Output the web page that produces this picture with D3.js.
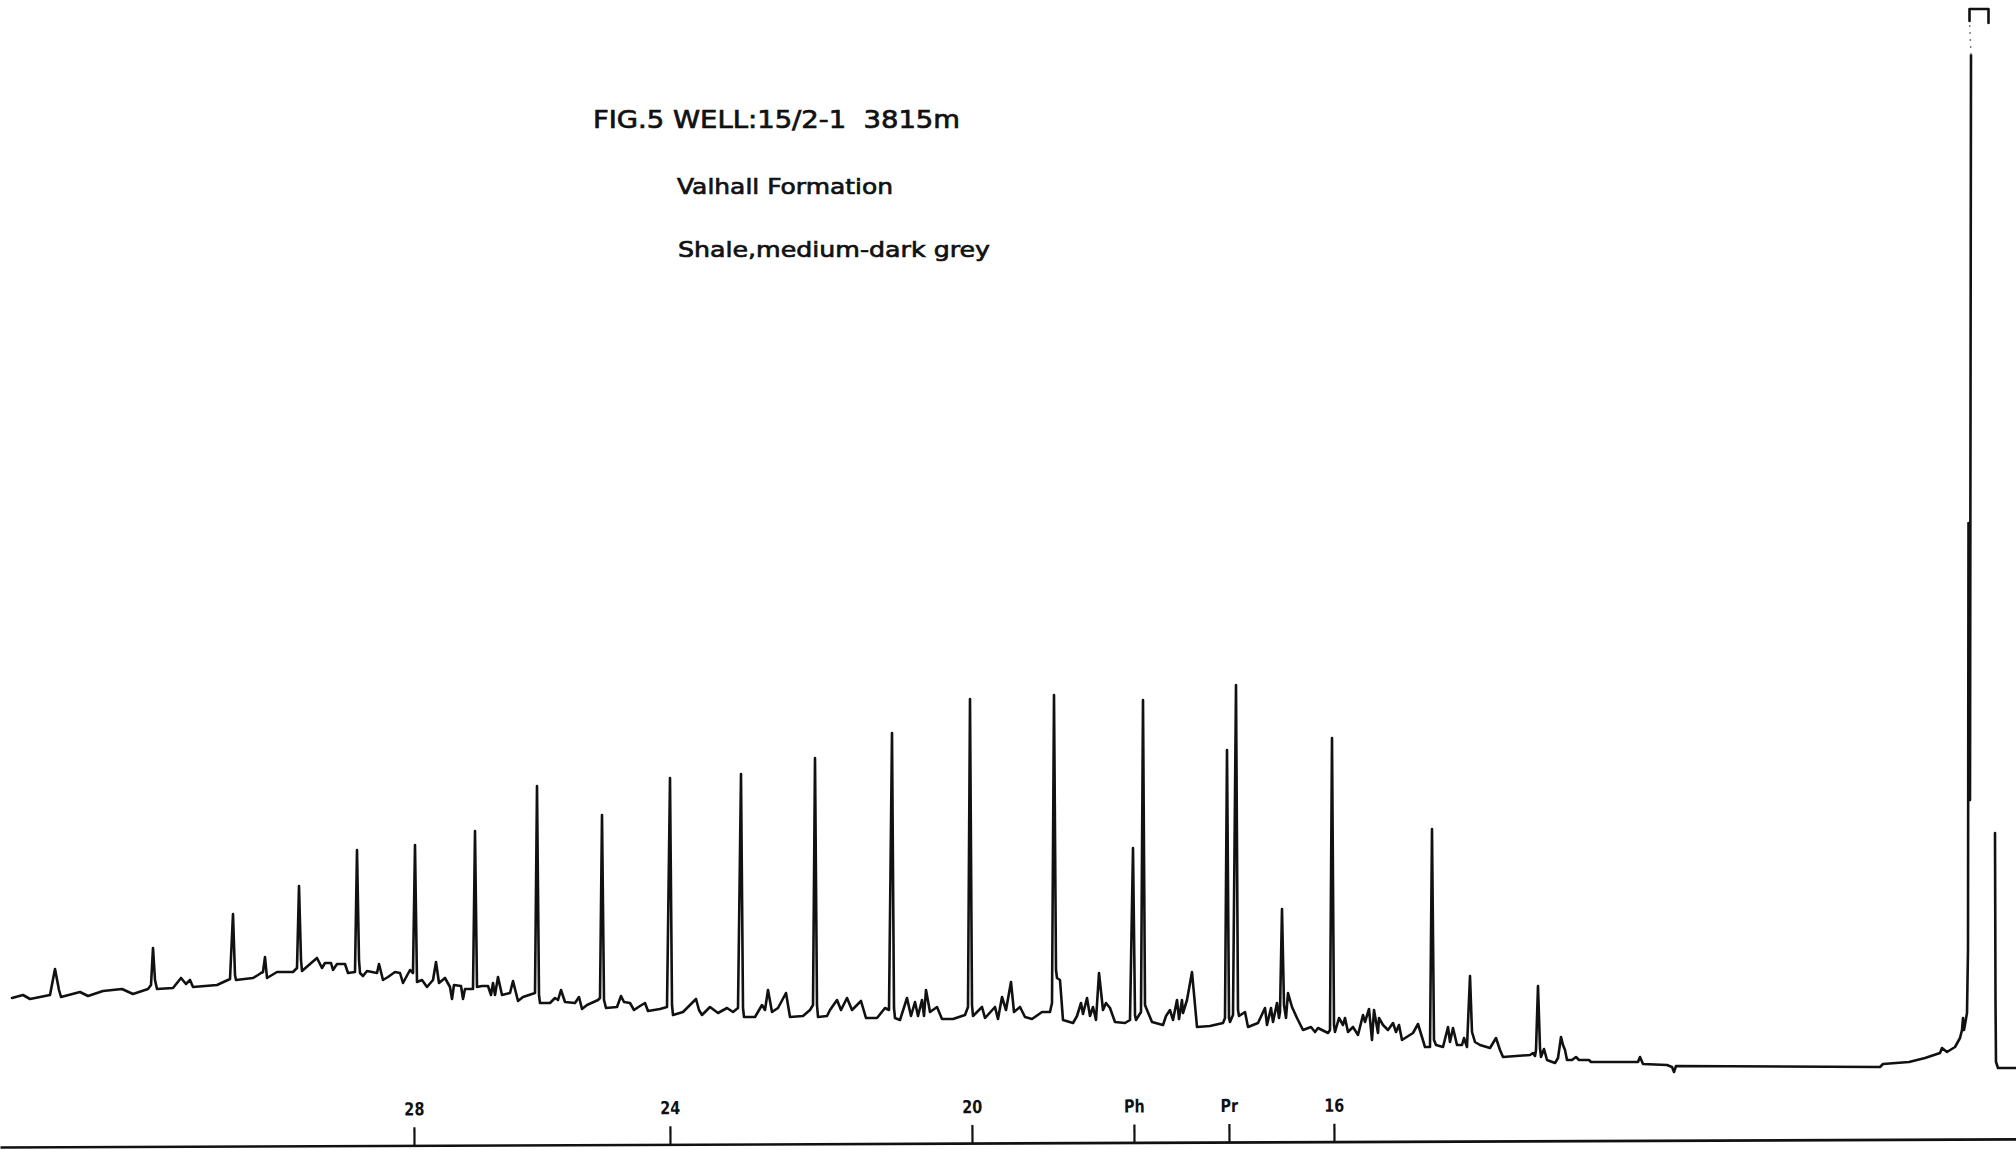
<!DOCTYPE html>
<html>
<head>
<meta charset="utf-8">
<script src="https://cdn.jsdelivr.net/npm/d3@7"></script>
<style>
  html, body { margin: 0; padding: 0; background: #ffffff; }
  svg { display: block; }
</style>
</head>
<body>
<script>
// Saturated-hydrocarbon gas chromatogram, well 15/2-1, 3815 m.
// Retention time (min) grows from right to left, as on the recorder paper;
// signal is in recorder units (full scale = 115).

// Chart annotation
const titleLines = ["FIG.5 WELL:15/2-1  3815m", "Valhall Formation", "Shale,medium-dark grey"];

// Peak markers under the trace (n-alkane carbon numbers, phytane, pristane)
const tickLabels = ["28", "24", "20", "Ph", "Pr", "16"];
const tickTimes  = [80.1, 67.3, 52.2, 44.1, 39.35, 34.1];

// Trace, [retention min, signal]: heavy end (n-C33 .. n-C26)
const heavyEnd = [
  [100.2,15.2],[99.65,15.5],[99.3,15.1],[98.3,15.5],[98.05,18.1],[97.85,16.0],[97.75,15.3],
  [96.8,15.8],[96.4,15.4],[95.65,15.9],[94.7,16.1],[94.15,15.6],[93.4,16.1],[93.25,16.5],
  [93.15,20.2],[93.05,17.0],[92.95,16.1],[92.15,16.2],[91.75,17.2],[91.5,16.6],[91.3,17.0],
  [91.15,16.3],[89.95,16.5],[89.3,17.1],[89.15,23.6],[89.05,17.5],[89.0,17.0],[88.15,17.2],
  [87.9,17.5],[87.75,17.7],[87.65,17.8],[87.55,19.3],[87.45,17.2],[86.95,17.8],[86.15,17.8],
  [85.95,18.2],[85.85,26.4],[85.75,19.0],[85.7,17.9],[85.3,18.6],[84.95,19.2],[84.7,18.2],
  [84.55,18.7],[84.25,18.7],[84.15,18.0],[83.95,18.6],[83.55,18.6],[83.4,17.7],[83.05,17.8],
  [82.95,30.0],[82.85,19.0],[82.8,17.7],[82.65,17.4],[82.45,17.9],[81.95,17.7],[81.85,18.6],
  [81.65,17.0],[81.4,17.3],[81.05,17.8],[80.8,17.7],[80.65,16.7],[80.3,18.0],[80.15,17.7],
  [80.05,30.5],[79.95,16.8],[79.7,17.0],[79.45,16.3],[79.15,17.0],[79.0,18.8],[78.85,16.7],
  [78.55,17.2],[78.3,16.3],[78.2,15.1],[78.1,16.5],[77.75,16.4],[77.65,15.1],[77.55,16.1],
  [77.15,16.1],[77.05,31.9],[76.95,16.3],[76.7,16.4],[76.4,16.4],[76.25,15.5],[76.15,16.7],
  [76.05,15.5],[75.9,17.3],[75.7,15.5],[75.3,15.7],[75.15,16.9],[74.9,14.9],[74.65,15.3],
  [74.05,15.7],[73.95,36.4],[73.85,15.5],[73.8,14.7]
];

// Trace: middle range (n-C25 .. n-C19)
const midRange = [
  [73.3,14.7],[73.05,15.2],[72.9,15.0],[72.75,16.0],[72.55,14.8],[72.05,14.7],[71.85,15.3],
  [71.7,14.1],[71.45,14.5],[70.9,15.0],[70.8,15.2],[70.7,33.5],[70.6,15.0],[70.5,14.2],
  [69.95,14.3],[69.75,15.4],[69.6,14.8],[69.3,14.7],[69.1,14.0],[68.8,14.4],[68.55,14.7],
  [68.4,13.9],[67.8,14.1],[67.45,14.3],[67.3,37.2],[67.2,14.5],[67.15,13.5],[66.65,13.8],
  [66.2,14.7],[66.0,15.1],[65.85,14.0],[65.7,13.5],[65.3,14.3],[64.9,13.7],[64.45,14.2],
  [64.15,13.8],[63.9,14.2],[63.75,37.6],[63.65,14.2],[63.6,13.3],[63.05,13.3],[62.7,14.5],
  [62.55,14.0],[62.4,16.0],[62.2,13.8],[61.9,14.2],[61.5,15.7],[61.3,13.3],[60.65,13.4],
  [60.3,14.0],[60.15,14.5],[60.05,39.2],[59.95,14.5],[59.9,13.3],[59.45,13.4],[59.3,14.0],
  [58.95,15.0],[58.75,14.0],[58.45,15.2],[58.2,14.0],[57.75,14.9],[57.5,13.2],[56.95,13.2],
  [56.55,14.2],[56.35,14.0],[56.2,41.7],[56.1,14.2],[56.05,13.2],[55.8,13.0],[55.45,15.2],
  [55.25,13.4],[55.05,14.8],[54.9,13.4],[54.7,15.0],[54.6,13.4],[54.5,16.0],[54.3,13.8],
  [53.95,14.3],[53.7,13.1],[53.15,13.1],[52.55,13.5],[52.4,14.3],[52.3,45.1],[52.2,14.5],
  [52.15,13.4],[51.7,14.3],[51.55,13.2],[51.05,14.3],[50.9,13.1],[50.7,15.3],[50.5,14.0],
  [50.25,16.8],[50.1,13.8],[49.8,14.3],[49.55,13.3],[49.2,13.1],[48.7,13.8],[48.3,13.8],
  [48.2,14.7],[48.1,45.5],[48.0,18.0],[47.95,17.2],[47.8,17.0],[47.65,13.0]
];

// Trace: light end (phytane, n-C18 .. n-C13)
const lightEnd = [
  [47.15,12.7],[46.95,13.4],[46.75,14.7],[46.65,13.6],[46.45,15.2],[46.3,13.4],[46.15,14.3],
  [46.0,13.0],[45.85,17.7],[45.65,14.0],[45.5,14.7],[45.3,14.2],[45.05,12.8],[44.55,12.7],
  [44.3,13.0],[44.15,30.2],[44.05,13.5],[44.0,13.0],[43.75,13.8],[43.65,45.0],[43.55,14.5],
  [43.45,14.0],[43.2,12.8],[42.65,12.5],[42.5,13.4],[42.3,14.0],[42.15,13.0],[41.95,15.0],
  [41.85,13.1],[41.7,15.0],[41.65,13.7],[41.45,15.0],[41.2,17.8],[41.05,14.5],[40.95,12.3],
  [40.3,12.4],[39.65,12.7],[39.55,13.2],[39.45,40.0],[39.35,13.2],[39.3,12.8],[39.15,13.5],
  [39.0,46.5],[38.9,14.0],[38.85,13.4],[38.55,13.8],[38.4,12.3],[37.9,12.7],[37.55,14.2],
  [37.45,12.5],[37.25,14.2],[37.15,12.8],[36.95,14.7],[36.85,13.2],[36.8,13.8],[36.7,24.1],
  [36.6,14.5],[36.5,13.2],[36.4,15.7],[36.2,14.3],[35.95,13.2],[35.65,12.0],[35.25,12.3],
  [35.05,11.8],[34.9,12.2],[34.4,11.7],[34.3,12.0],[34.2,41.2],[34.1,12.5],[34.05,11.8],
  [33.85,13.2],[33.65,12.5],[33.55,13.2],[33.4,11.8],[33.15,12.3],[32.9,11.5],[32.65,13.5],
  [32.55,12.8],[32.35,14.1],[32.2,11.0],[32.1,14.0],[31.9,11.7],[31.85,13.2],[31.65,12.5],
  [31.4,12.0],[31.15,12.7],[31.0,11.8],[30.85,12.5],[30.7,11.0],[30.15,11.7],[29.9,12.6],
  [29.55,10.3],[29.3,10.3],[29.2,32.1],[29.1,11.0],[29.0,10.5],[28.65,10.3],[28.4,12.3],
  [28.3,10.8],[28.15,12.2],[27.95,10.5],[27.7,10.5],[27.6,11.2],[27.45,10.3],[27.3,17.4],
  [27.2,11.8],[27.05,10.8],[26.8,10.5],[26.3,10.2],[26.0,11.2],[25.8,10.0],[25.65,9.3],
  [24.3,9.5],[24.15,9.7],[24.05,9.4],[24.0,10.0],[23.9,16.4],[23.8,10.2],[23.75,9.3],
  [23.6,10.1],[23.45,9.0],[23.05,8.7],[22.9,9.2],[22.75,11.3],[22.65,10.5],[22.55,10.0],
  [22.45,9.0],[22.2,9.0],[22.0,9.3],[21.85,9.0],[21.35,9.0],[21.25,8.8],[18.9,8.8],
  [18.8,9.3],[18.65,8.6],[17.45,8.5],[17.2,8.3],[17.1,7.8],[17.0,8.4],[6.8,8.3],[6.65,8.6],
  [5.35,8.8],[4.55,9.2]
];

// Trace: solvent front; null = pen travel too fast to leave ink
const solventFront = [
  [3.8,9.7],[3.7,10.2],[3.45,9.8],[3.05,10.3],[2.8,11.2],[2.7,12.0],[2.65,13.2],[2.6,12.0],
  [2.45,13.7],[2.4,20.0],[2.375,62.7],[2.3,35.0],[2.25,109.5],
  null,
  [2.325,112.9],[2.325,114.1],[1.375,114.1],[1.375,112.7],
  null,
  [1.05,31.7],[1.025,15.0],[1.0,8.8],[0.9,8.2],[0.0,8.2]
];

const trace = [].concat(heavyEnd, midRange, lightEnd, solventFront);

const width = 2016, height = 1150;
const ink = "#111111";

const x = d3.scaleLinear().domain([0, 100.8]).range([width, 0]);
const y = d3.scaleLinear().domain([0, 115]).range([height, 0]);

const svg = d3.select("body").append("svg")
  .attr("width", width)
  .attr("height", height)
  .attr("viewBox", `0 0 ${width} ${height}`);

svg.append("rect").attr("width", width).attr("height", height).attr("fill", "#ffffff");

// Recorder trace
const line = d3.line()
  .defined(d => d !== null)
  .x(d => x(d[0]))
  .y(d => y(d[1]));

svg.append("path")
  .datum(trace)
  .attr("d", line)
  .attr("fill", "none")
  .attr("stroke", ink)
  .attr("stroke-width", 2.6)
  .attr("stroke-linejoin", "round")
  .attr("stroke-linecap", "round");

// Faint ink where the pen climbed off scale at the solvent front
svg.append("path")
  .datum([[2.25, 109.5], [2.325, 112.9]])
  .attr("d", line)
  .attr("fill", "none")
  .attr("stroke", "#777")
  .attr("stroke-width", 1.4)
  .attr("stroke-dasharray", "2,5");

// Peak-marker axis along the bottom of the paper (slightly skewed baseline)
const axis = d3.axisTop(x)
  .tickValues(tickTimes)
  .tickFormat(d => tickLabels[tickTimes.indexOf(d)])
  .tickSize(18)
  .tickSizeOuter(0)
  .tickPadding(12);

const gAxis = svg.append("g")
  .attr("transform", "translate(0,1147) rotate(-0.23)")
  .call(axis);

gAxis.select(".domain")
  .attr("stroke", ink)
  .attr("stroke-width", 2.6);

gAxis.selectAll(".tick line")
  .attr("stroke", ink)
  .attr("stroke-width", 2.2);

gAxis.selectAll(".tick text")
  .attr("fill", ink)
  .attr("font-family", "'DejaVu Sans', sans-serif")
  .attr("font-weight", "bold")
  .attr("font-size", 18)
  .attr("transform", "scale(0.8,1)");

// Annotation block
const titleSpec = [
  { x: 593, y: 128, size: 24, len: 367 },
  { x: 677, y: 194, size: 22, len: 216 },
  { x: 678, y: 257, size: 22, len: 312 }
];

svg.append("g")
  .selectAll("text")
  .data(titleLines)
  .join("text")
  .attr("x", (d, i) => titleSpec[i].x)
  .attr("y", (d, i) => titleSpec[i].y)
  .attr("font-size", (d, i) => titleSpec[i].size)
  .attr("textLength", (d, i) => titleSpec[i].len)
  .attr("lengthAdjust", "spacingAndGlyphs")
  .attr("font-family", "'DejaVu Sans', sans-serif")
  .attr("fill", ink)
  .attr("stroke", ink)
  .attr("stroke-width", 0.7)
  .style("white-space", "pre")
  .text(d => d);
</script>
</body>
</html>
